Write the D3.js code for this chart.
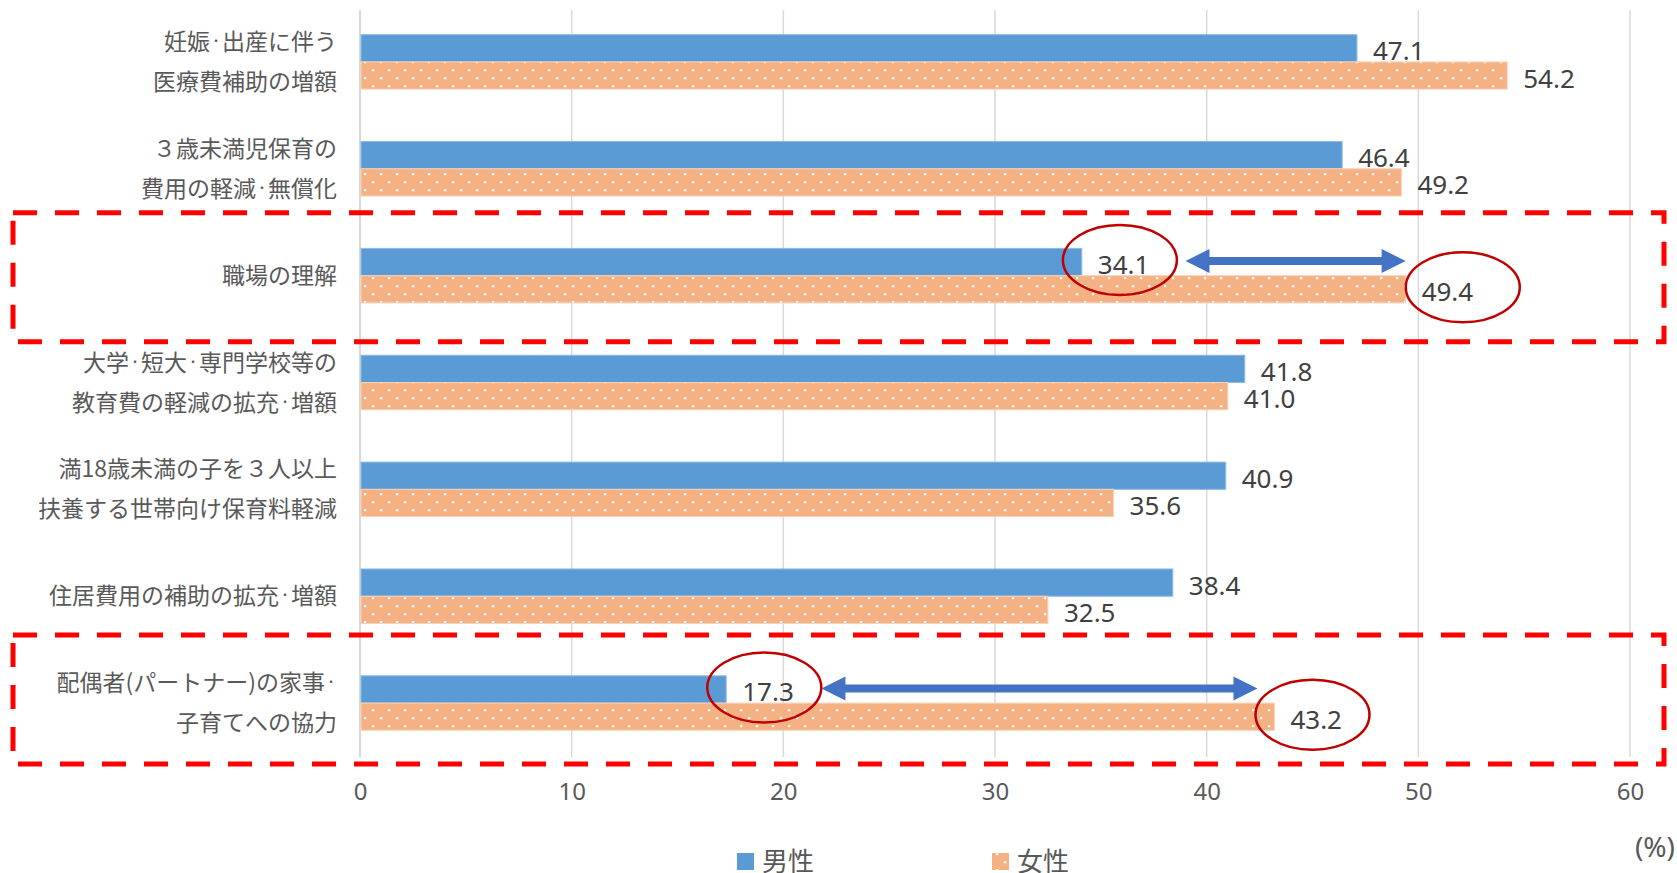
<!DOCTYPE html>
<html><head><meta charset="utf-8">
<script src="https://cdn.jsdelivr.net/npm/d3@7"></script>
<style>
html,body{margin:0;padding:0;background:#fff;}
svg{display:block;font-family:"Noto Sans CJK JP","Noto Sans",sans-serif;}
</style></head>
<body>
<svg id="chart" width="1677" height="873"></svg>
<script>
// ---- data ----
const categories = [
  ["妊娠・出産に伴う","医療費補助の増額"],
  ["３歳未満児保育の","費用の軽減・無償化"],
  ["職場の理解"],
  ["大学・短大・専門学校等の","教育費の軽減の拡充・増額"],
  ["満18歳未満の子を３人以上","扶養する世帯向け保育料軽減"],
  ["住居費用の補助の拡充・増額"],
  ["配偶者(パートナー)の家事・","子育てへの協力"]
];
const seriesNames = ["男性","女性"];
const maleValues   = [47.1, 46.4, 34.1, 41.8, 40.9, 38.4, 17.3];
const femaleValues = [54.2, 49.2, 49.4, 41.0, 35.6, 32.5, 43.2];
const xTicks = [0,10,20,30,40,50,60];
const unitLabel = "(%)";
// highlighted categories (index) with annotation value positions
const highlightIdx = [2, 6];
const boxTop = [-63, -68];
const boxBottom = [66, 61];
const circleMaleX   = [35.9, 19.1];
const circleFemaleX = [52.1, 45.0];
const arrowFrom = [39.0, 21.8];
const arrowTo   = [49.4, 42.4];

const colors = ["#5b9bd5", "#f4b183"];

const svg = d3.select("#chart");
const defs = svg.append("defs");
const pat = defs.append("pattern").attr("id","dots").attr("patternUnits","userSpaceOnUse")
  .attr("width",16).attr("height",16);
pat.append("rect").attr("width",16).attr("height",16).attr("fill",colors[1]);
pat.append("rect").attr("x",4).attr("y",5).attr("width",2.2).attr("height",2.2).attr("fill","#fff");
pat.append("rect").attr("x",12).attr("y",13).attr("width",2.2).attr("height",2.2).attr("fill","#fff");
const fills = [colors[0], "url(#dots)"];

const x = d3.scaleLinear().domain([0,60]).range([360,1630]);
const y = d3.scaleBand().domain(d3.range(categories.length)).range([8.5,756.5])
  .paddingInner(0.49).paddingOuter(0.245);
const ys = d3.scaleBand().domain([0,1]).range([0,y.bandwidth()]);
const yc = i => y(i) + y.bandwidth()/2;

// gridlines
svg.append("g").selectAll("line").data(xTicks).join("line")
  .attr("x1",d=>x(d)).attr("x2",d=>x(d)).attr("y1",10).attr("y2",757)
  .attr("stroke","#d9d9d9").attr("stroke-width",d=>d===0?2.2:1.5);

// x tick labels via axis
const xAxis = svg.append("g").attr("transform","translate(0,792)")
  .call(d3.axisBottom(x).tickValues(xTicks).tickSize(0).tickPadding(0).tickFormat(d3.format("d")));
xAxis.select(".domain").remove();
xAxis.selectAll("text").attr("font-size",24).attr("fill","#595959")
  .attr("font-family","'Noto Sans','DejaVu Sans',sans-serif").attr("dy","0.35em");

// bars
const data = [maleValues, femaleValues];
data.forEach((vals, s) => {
  const g = svg.append("g");
  g.selectAll("rect").data(vals).join("rect")
    .attr("x", x(0)+1).attr("y",(d,i)=>y(i)+ys(s))
    .attr("width", d=>x(d)-x(0)-1).attr("height", ys.bandwidth())
    .attr("fill", fills[s])
    .attr("stroke", s===0 ? "#8db9e3" : "#f8d3bb").attr("stroke-width",1);
  g.selectAll("text").data(vals).join("text")
    .attr("x", d=>x(d)+16).attr("y",(d,i)=>y(i)+ys(s)+ys.bandwidth()/2+2)
    .attr("dominant-baseline","central")
    .attr("font-size",26).attr("fill","#404040")
    .attr("font-family","'Noto Sans','DejaVu Sans',sans-serif")
    .text(d=>d.toFixed(1));
});

// category labels (middle dots drawn narrow, like the original font)
const lab = svg.append("g");
categories.forEach((lines,i)=>{
  lines.forEach((ln,k)=>{
    const off = lines.length===1 ? 0 : (k===0 ? -20 : 20);
    const t = lab.append("text").attr("text-anchor","end").attr("font-size",23)
      .attr("fill","#595959").attr("x",337).attr("y",yc(i)+off+8);
    const parts = ln.split("・");
    parts.forEach((p,pi)=>{
      if (pi>0) t.append("tspan").attr("font-size",12).attr("dy",-4).text("・");
      if (p.length) {
        const ts = t.append("tspan").text(p);
        if (pi>0) ts.attr("dy",4);
      } else if (pi>0) {
        t.append("tspan").attr("dy",4).text("");
      }
    });
  });
});

// highlight boxes + annotations
highlightIdx.forEach((ci,k)=>{
  const c = yc(ci);
  svg.append("rect").attr("x",13).attr("y",c+boxTop[k]).attr("width",1651)
    .attr("height",boxBottom[k]-boxTop[k])
    .attr("fill","none").attr("stroke","#ff0000").attr("stroke-width",5)
    .attr("stroke-dasharray","24,18");
  const my = y(ci)+ys(0)+ys.bandwidth()/2;
  const fy = y(ci)+ys(1)+ys.bandwidth()/2;
  svg.append("ellipse").attr("cx",x(circleMaleX[k])).attr("cy",my-2).attr("rx",57).attr("ry",35)
    .attr("fill","none").attr("stroke","#c00000").attr("stroke-width",2.5);
  svg.append("ellipse").attr("cx",x(circleFemaleX[k])).attr("cy",fy-2).attr("rx",57).attr("ry",35)
    .attr("fill","none").attr("stroke","#c00000").attr("stroke-width",2.5);
  const x1 = x(arrowFrom[k]), x2 = x(arrowTo[k]), ay = my-1;
  const hl = 24, hh = 12, sh = 4;
  const pts = [
    [x1, ay], [x1+hl, ay-hh], [x1+hl, ay-sh], [x2-hl, ay-sh], [x2-hl, ay-hh],
    [x2, ay], [x2-hl, ay+hh], [x2-hl, ay+sh], [x1+hl, ay+sh], [x1+hl, ay+hh]
  ];
  svg.append("path").attr("d", d3.line()(pts)+"Z").attr("fill","#4472c4");
});

// legend
const leg = svg.append("g");
const legX = [737, 992];
seriesNames.forEach((n,i)=>{
  leg.append("rect").attr("x",legX[i]).attr("y",853).attr("width",17).attr("height",17).attr("fill",fills[i]);
  leg.append("text").attr("x",legX[i]+25).attr("y",859).attr("dominant-baseline","central")
    .attr("font-size",26).attr("fill","#595959").text(n);
});

// unit label
svg.append("text").attr("x",1675).attr("y",846).attr("text-anchor","end")
  .attr("dominant-baseline","central").attr("font-size",28).attr("fill","#595959")
  .attr("font-family","'Noto Sans','DejaVu Sans',sans-serif").text(unitLabel);
</script>
</body></html>
